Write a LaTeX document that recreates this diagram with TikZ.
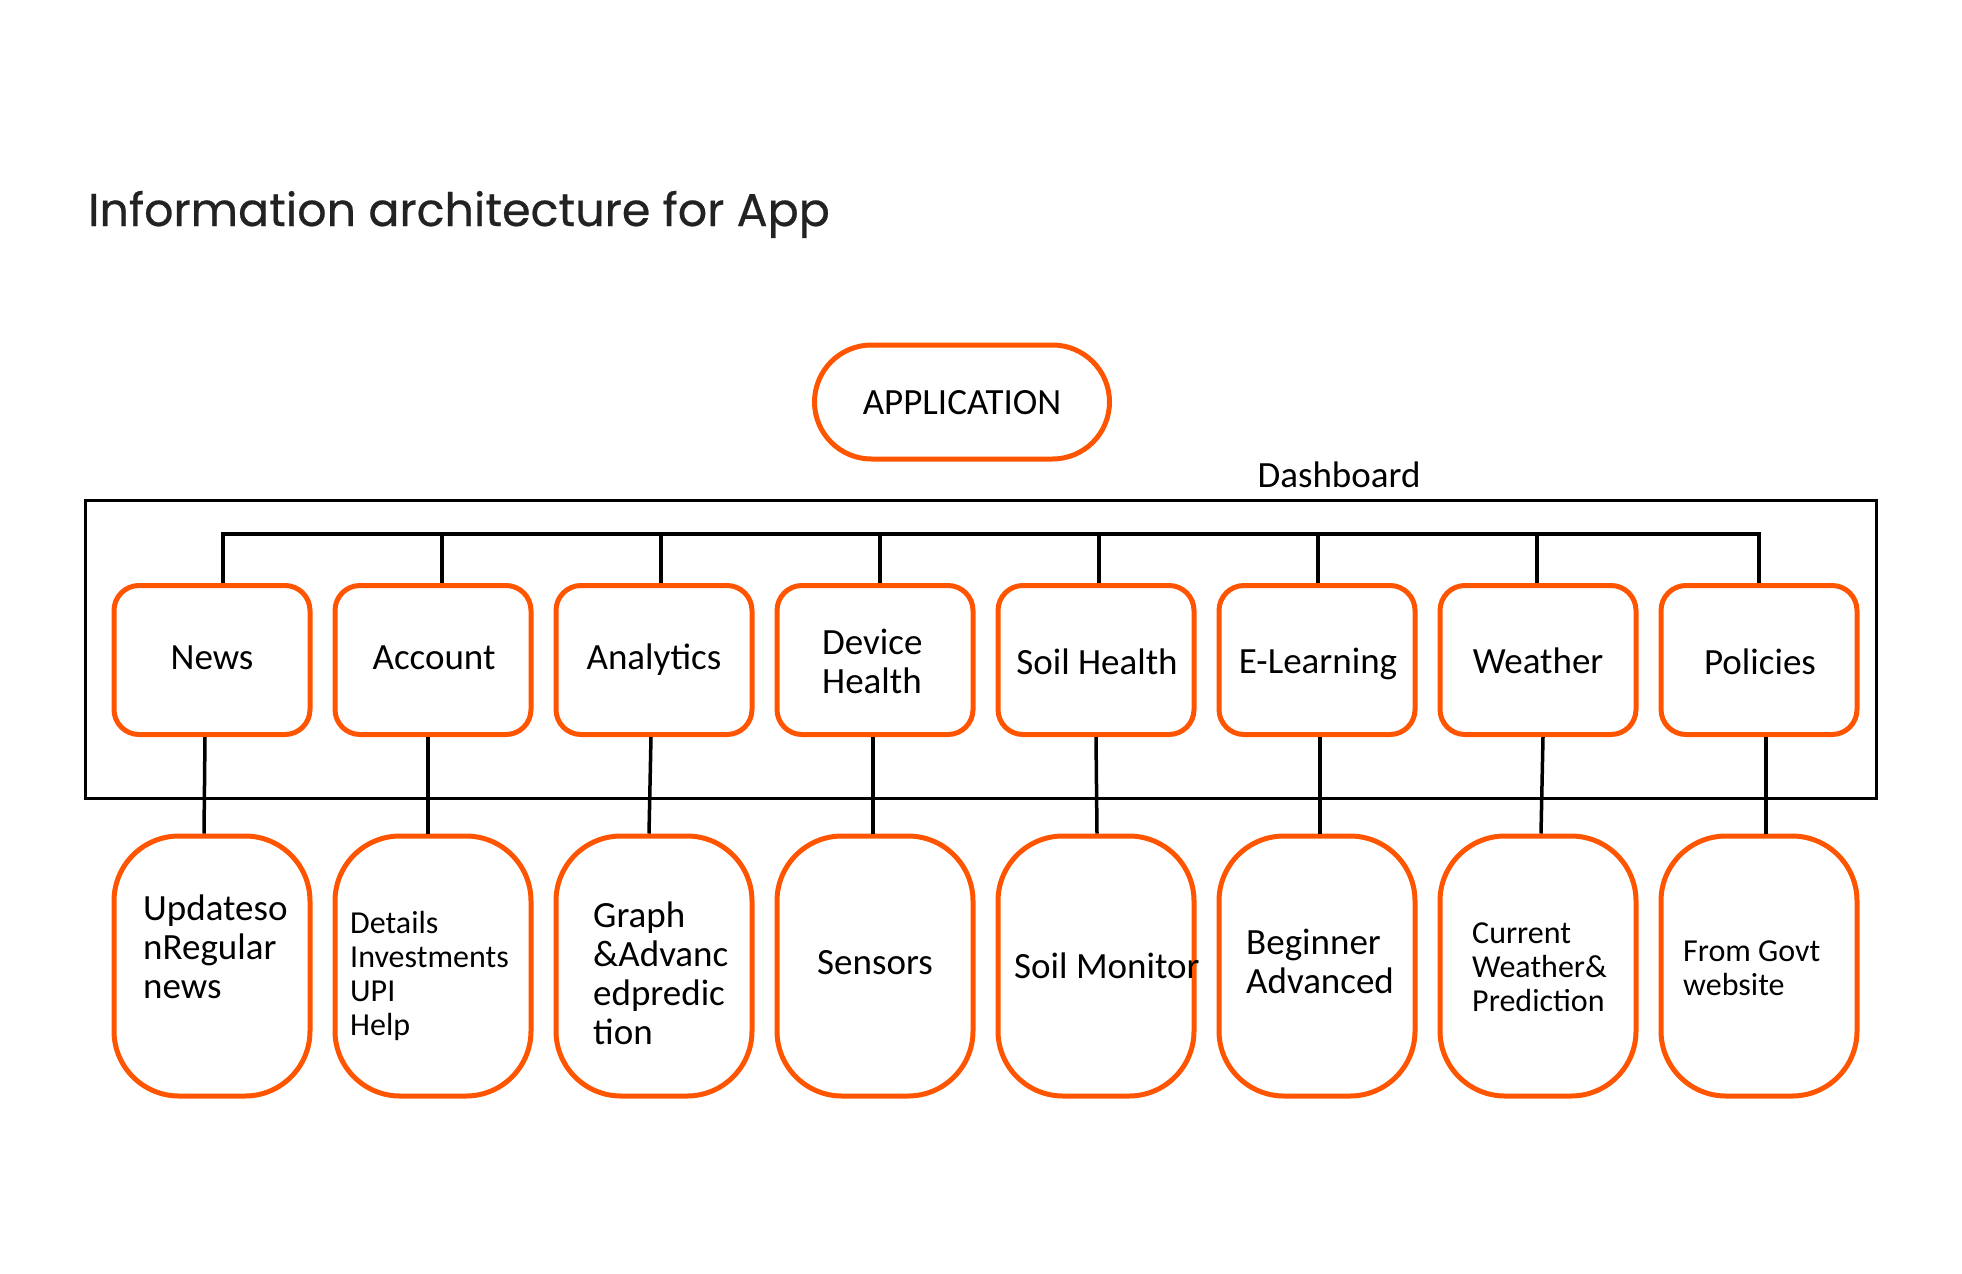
\documentclass[tikz,border=0pt]{standalone}
\usepackage{fontspec}
\setmainfont{Carlito}
\newfontfamily\titlefont[FakeBold=0.5]{Poppins}
\definecolor{accent}{RGB}{255,85,0}
\definecolor{ink}{RGB}{34,34,34}
\newcommand\tlines[1]{\begin{tabular}[t]{@{}l@{}}#1\end{tabular}}
\begin{document}
\begin{tikzpicture}[x=1pt,y=-1pt,
  topbox/.style={draw=accent,line width=5pt,rounded corners=25pt,minimum width=196pt,minimum height=149pt,inner sep=0pt},
  botbox/.style={draw=accent,line width=5pt,rounded corners=65pt,minimum width=196pt,minimum height=260pt,inner sep=0pt},
  big/.style={font=\fontsize{37}{39}\selectfont,inner sep=0pt},
  small/.style={font=\fontsize{32}{34}\selectfont,inner sep=0pt},
  wire/.style={line width=3.5pt,black}]
\useasboundingbox (0,0) rectangle (1962,1274);
% title
\node[font=\titlefont\fontsize{46}{50}\selectfont,text=ink,anchor=base west,inner sep=0pt] (title) at (88,226) {Information architecture for App};
% application
\node[draw=accent,line width=5pt,rounded corners=57pt,minimum width=295pt,minimum height=114pt] (app) at (962,402) {};
\node[big,anchor=base] (apptext) at (962,414) {APPLICATION};
% dashboard frame
\node[big,anchor=base] (dash) at (1339,487) {Dashboard};
\draw[line width=3pt] (85,500) rectangle (1876,798);
% top boxes
\foreach \i/\x in {1/212,2/433,3/654,4/875,5/1096,6/1317,7/1538,8/1759}{
  \node[topbox] (t\i) at (\x,660) {};
  \node[botbox] (b\i) at (\x,966) {};
}
% top texts
\node[big,anchor=base] (n1) at (212,669) {News};
\node[big,anchor=base] (n2) at (434,669) {Account};
\node[big,anchor=base] (n3) at (654,669) {Analytics};
\node[big,anchor=base west] (n4) at (822,654) {\tlines{Device\\Health}};
\node[big,anchor=base] (n5) at (1097,674) {Soil Health};
\node[big,anchor=base] (n6) at (1318,673) {E-Learning};
\node[big,anchor=base] (n7) at (1538,673) {Weather};
\node[big,anchor=base] (n8) at (1760,674) {Policies};
% bottom texts
\node[big,anchor=base west] (m1) at (143,920) {\tlines{Updateso\\nRegular\\news}};
\node[small,anchor=base west] (m2) at (350,933) {\tlines{Details\\Investments\\UPI\\Help}};
\node[big,anchor=base west] (m3) at (593,927) {\tlines{Graph\\\&Advanc\\edpredic\\tion}};
\node[big,anchor=base] (m4) at (875,974) {Sensors};
\node[big,anchor=base west] (m5) at (1014,978) {Soil Monitor};
\node[big,anchor=base west] (m6) at (1246,954) {\tlines{Beginner\\Advanced}};
\node[small,anchor=base west] (m7) at (1472,943) {\tlines{Current\\Weather\&\\Prediction}};
\node[small,anchor=base west] (m8) at (1683,961) {\tlines{From Govt\\website}};
% bus
\coordinate (busR) at (1759,534);
\draw[wire] ([xshift=11pt]t1.north) |- (busR) -- (t8.north);
\foreach \i/\s in {2/9,3/7,4/5,5/3,6/1,7/-1}{
  \draw[wire] ([xshift=\s pt]t\i.north) -- ([xshift=\s pt]t\i.north |- busR);
}
% down connectors
\foreach \i/\a/\b in {1/-7/-8,2/-5/-5,3/-3/-5,4/-2/-2,5/0/1,6/3/3,7/5/3,8/7/7}{
  \draw[wire] ([xshift=\a pt]t\i.south) -- ([xshift=\b pt]b\i.north);
}
\end{tikzpicture}
\end{document}
